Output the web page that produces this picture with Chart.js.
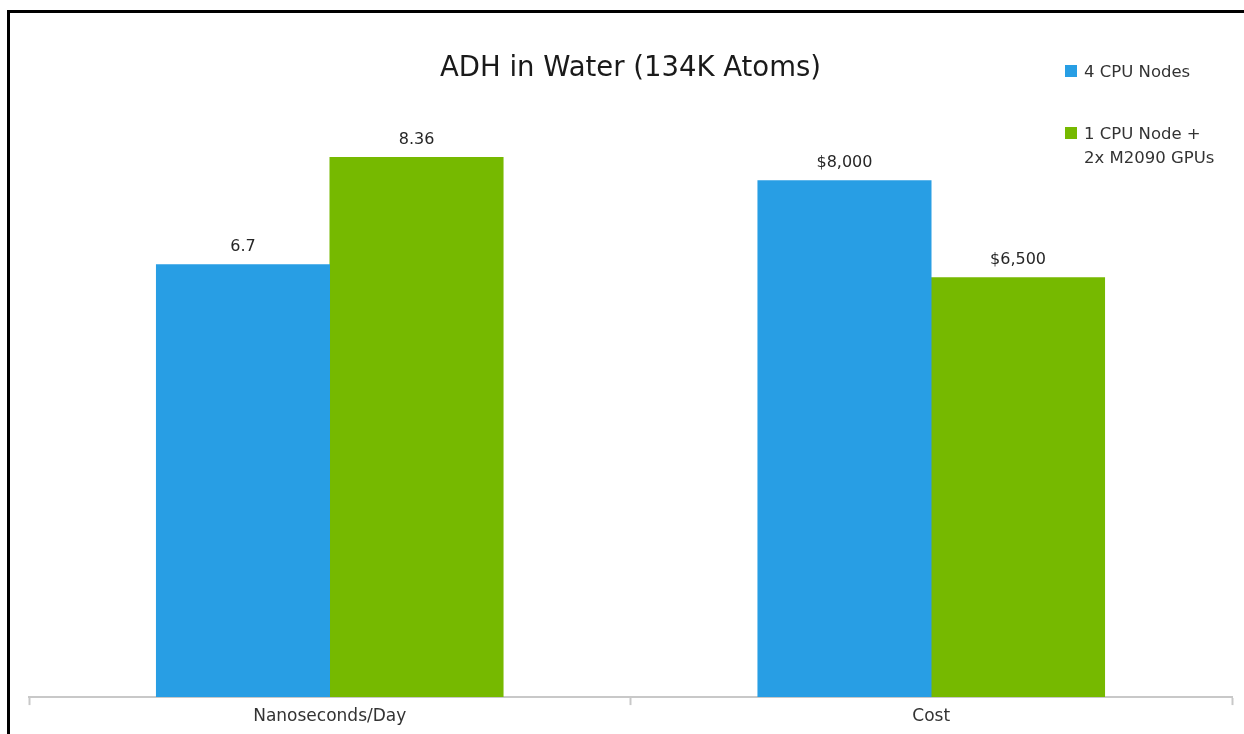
<!DOCTYPE html>
<html>
<head>
<meta charset="utf-8">
<title>ADH in Water (134K Atoms)</title>
<script src="https://cdn.jsdelivr.net/npm/chart.js@4/dist/chart.umd.min.js"></script>
<style>
  html, body { margin: 0; padding: 0; background: #fff; }
  #wrap { position: relative; width: 1244px; height: 734px; overflow: hidden; }
  #frame {
    position: absolute; left: 7px; top: 10px; right: 0; bottom: -10px;
    border-top: 3px solid #000; border-left: 3px solid #000;
    pointer-events: none;
  }
  canvas { position: absolute; left: 0; top: 0; }
</style>
</head>
<body>
<div id="wrap">
  <canvas id="chart" width="1244" height="734"></canvas>
  <div id="frame"></div>
</div>
<script>
// Benchmark categories (one bar group each)
const categories = ['Nanoseconds/Day', 'Cost'];

// Configurations compared
const seriesNames = ['4 CPU Nodes', '1 CPU Node + 2x M2090 GPUs'];
const legendLines = [['4 CPU Nodes'], ['1 CPU Node +', '2x M2090 GPUs']];
const seriesColors = ['#289ee4', '#76b900'];

// Values per category, in category order
const cpuValues = [6.7, 8000];
const gpuValues = [8.36, 6500];

// Each category is measured in its own unit, so each gets its own value axis
const categoryAxes = ['yPerf', 'yCost'];
const axisMax = { yPerf: 10, yCost: 10000 };

const chartTitle = 'ADH in Water (134K Atoms)';
const FONT = '"DejaVu Sans", Verdana, sans-serif';

function formatValue(catIndex, v) {
  if (catIndex === 1) return '$' + v.toLocaleString('en-US');
  return String(v);
}

// One dataset per (series, category) pair; empty slots are skipped so
// each group still shows just two side-by-side bars.
const seriesValues = [cpuValues, gpuValues];
const datasets = [];
seriesValues.forEach((vals, s) => {
  categories.forEach((cat, c) => {
    datasets.push({
      label: seriesNames[s],
      data: categories.map((_, i) => (i === c ? vals[i] : null)),
      backgroundColor: seriesColors[s],
      borderColor: seriesColors[s],
      borderWidth: 0,
      yAxisID: categoryAxes[c],
      skipNull: true,
      categoryPercentage: 0.577,
      barPercentage: 1.003
    });
  });
});

// Title, value labels and legend drawn on the canvas
const decorations = {
  id: 'decorations',
  afterDatasetsDraw(chart) {
    const ctx = chart.ctx;
    const area = chart.chartArea;
    ctx.save();

    // title, centred over the plot
    ctx.fillStyle = '#1a1a1a';
    ctx.font = '27.5px ' + FONT;
    ctx.textAlign = 'center';
    ctx.textBaseline = 'alphabetic';
    ctx.fillText(chartTitle, (area.left + area.right) / 2, 76);

    // value labels above each bar
    ctx.font = '16px ' + FONT;
    ctx.fillStyle = '#262626';
    chart.data.datasets.forEach((ds, di) => {
      const meta = chart.getDatasetMeta(di);
      meta.data.forEach((bar, i) => {
        const v = ds.data[i];
        if (v === null || v === undefined) return;
        ctx.fillText(formatValue(i, v), bar.x, bar.y - 13);
      });
    });

    // legend
    const legendX = 1065;
    const legendTops = [65, 127];
    ctx.textAlign = 'left';
    ctx.font = '16.5px ' + FONT;
    legendLines.forEach((lines, s) => {
      const top = legendTops[s];
      ctx.fillStyle = seriesColors[s];
      ctx.fillRect(legendX, top, 12, 12);
      ctx.fillStyle = '#333';
      lines.forEach((line, k) => {
        ctx.fillText(line, legendX + 19, top + 12 + k * 23.5);
      });
    });

    ctx.restore();
  }
};

new Chart(document.getElementById('chart'), {
  type: 'bar',
  data: { labels: categories, datasets },
  options: {
    responsive: false,
    animation: false,
    layout: { padding: { top: 51, left: 29, right: 12, bottom: 6.5 } },
    plugins: {
      legend: { display: false },
      title: { display: false },
      tooltip: {
        callbacks: {
          label: (item) => item.dataset.label + ': ' + formatValue(item.dataIndex, item.raw)
        }
      }
    },
    scales: {
      x: {
        grid: {
          display: true,
          drawOnChartArea: false,
          drawTicks: true,
          tickLength: 8,
          tickWidth: 2,
          color: '#c8c8c8',
          offset: true
        },
        border: { display: true, color: '#c8c8c8', width: 2 },
        ticks: {
          color: '#333',
          font: { family: FONT, size: 17 },
          padding: 1
        }
      },
      yPerf: {
        type: 'linear', position: 'left', display: false,
        min: 0, max: axisMax.yPerf
      },
      yCost: {
        type: 'linear', position: 'right', display: false,
        min: 0, max: axisMax.yCost
      }
    }
  },
  plugins: [decorations]
});
</script>
</body>
</html>
